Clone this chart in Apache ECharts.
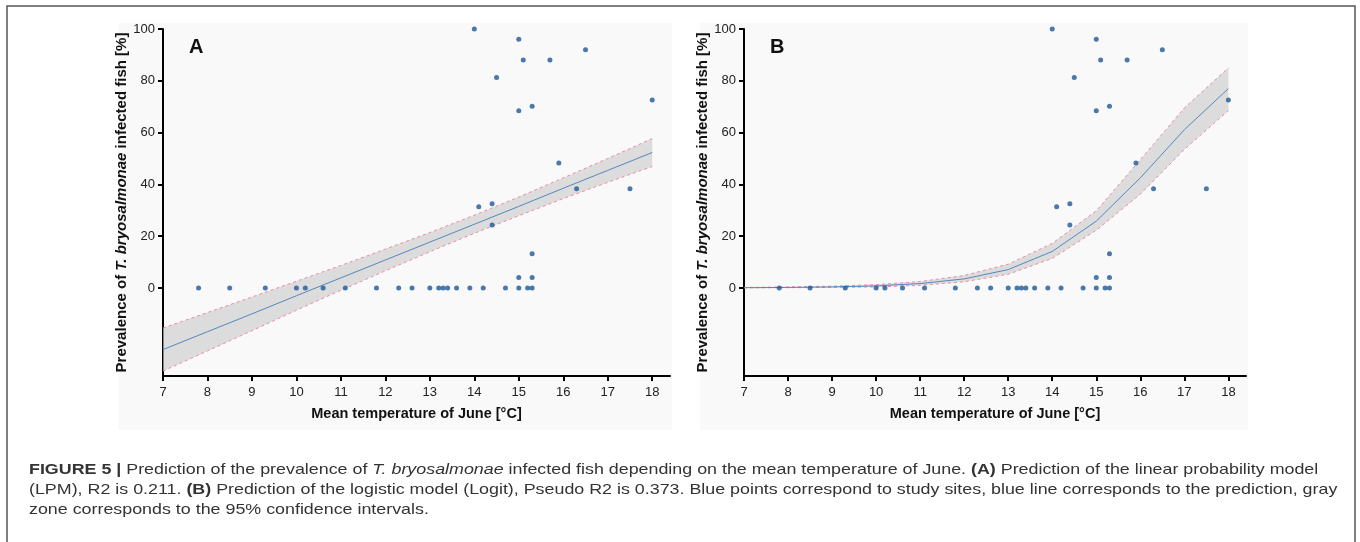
<!DOCTYPE html>
<html>
<head>
<meta charset="utf-8">
<script src="https://cdn.jsdelivr.net/npm/echarts@6/dist/echarts.min.js"></script>
<style>
html,body{margin:0;padding:0;background:#fff;}
#chart{width:1360px;height:542px;}
</style>
</head>
<body>
<div id="chart"></div>
<script>
// ---- data ----
const xTicks = [7, 8, 9, 10, 11, 12, 13, 14, 15, 16, 17, 18];
const yTicks = [0, 20, 40, 60, 80, 100];

// study sites: mean June temperature (°C) and prevalence (%)
const siteTemp = [7.8, 8.5, 9.3, 10.0, 10.2, 10.6, 11.1, 11.8, 12.3, 12.6, 13.0, 13.2, 13.3, 13.4, 13.6, 13.9, 14.2, 14.7, 15.0, 15.2, 15.3,
                  14.1, 14.4, 14.4, 15.0, 15.3, 15.3,
                  14.0, 15.0, 15.1, 15.7, 16.5, 14.5, 15.0, 15.3, 18.0, 15.9, 16.3, 17.5];
const sitePrev = [0, 0, 0, 0, 0, 0, 0, 0, 0, 0, 0, 0, 0, 0, 0, 0, 0, 0, 0, 0, 0,
                  31.4, 32.5, 24.3, 4.0, 4.0, 13.2,
                  100, 96, 88, 88, 92, 81.3, 68.4, 70.2, 72.6, 48.3, 38.3, 38.3];

// prediction grid
const predTemp = [7, 8, 9, 10, 11, 12, 13, 14, 15, 16, 17, 18];
// (A) linear probability model
const lpmFit   = [-23.8, -16.9, -10.0, -3.0, 3.9, 10.8, 17.7, 24.6, 31.5, 38.5, 45.4, 52.3];
const lpmUpper = [-15.5, -9.5, -3.5, 2.6, 8.7, 15.0, 21.4, 28.1, 35.1, 42.5, 50.0, 57.7];
const lpmLower = [-32.1, -24.3, -16.5, -8.6, -0.9, 6.6, 14.0, 21.1, 27.9, 34.5, 40.8, 46.9];
// (B) logistic model
const logitFit   = [0.1, 0.2, 0.4, 0.8, 1.7, 3.5, 7.1, 14.1, 25.8, 42.5, 61.1, 77.0];
const logitUpper = [0.2, 0.4, 0.7, 1.3, 2.5, 4.8, 9.2, 17.2, 29.8, 49.5, 69.5, 85.0];
const logitLower = [0.05, 0.1, 0.2, 0.4, 1.0, 2.4, 5.3, 11.4, 22.3, 36.2, 53.5, 68.5];

// ---- styles ----
const FONT = '"Liberation Sans", Arial, Helvetica, sans-serif';
const POINT = '#1b5996';
const FITLINE = '#5687bd';
const CI = '#ef8aa5';
const BAND = 'rgba(205,205,205,0.65)';

const pts = siteTemp.map((t, i) => [t, sitePrev[i]]);
const zip = (xs, ys) => xs.map((x, i) => [x, ys[i]]);

function bandSeries(idx, up, lo) {
  return {
    type: 'custom', xAxisIndex: idx, yAxisIndex: idx, silent: true, z: 1,
    data: [[predTemp[0], lo[0]]],
    encode: { x: 0, y: 1 },
    renderItem: function (params, api) {
      const poly = [];
      for (let i = 0; i < predTemp.length; i++) poly.push(api.coord([predTemp[i], up[i]]));
      for (let i = predTemp.length - 1; i >= 0; i--) poly.push(api.coord([predTemp[i], lo[i]]));
      return { type: 'polygon', shape: { points: poly }, style: { fill: BAND, stroke: null } };
    }
  };
}
function lineSeries(idx, ys, color, dashed) {
  return {
    type: 'line', xAxisIndex: idx, yAxisIndex: idx, data: zip(predTemp, ys), symbol: 'none',
    silent: true, z: dashed ? 2 : 3,
    lineStyle: { color: color, width: 1, type: dashed ? [3, 3] : 'solid' }
  };
}
function xAxis(idx) {
  return {
    type: 'value', gridIndex: idx, min: 7, max: 18.4,
    name: 'Mean temperature of June [°C]', nameLocation: 'middle', nameGap: 30,
    nameTextStyle: { fontFamily: FONT, fontWeight: 'bold', fontSize: 14.5, color: '#111' },
    axisLine: { show: true, onZero: false, lineStyle: { color: '#000', width: 2 } },
    axisTick: { show: true, length: 5, lineStyle: { color: '#000', width: 2 }, customValues: xTicks },
    axisLabel: { fontFamily: FONT, fontSize: 13, color: '#222', margin: 10, customValues: xTicks },
    splitLine: { show: false }
  };
}
function yAxis(idx) {
  return {
    type: 'value', gridIndex: idx, min: -34, max: 100,
    name: 'Prevalence of {i|T. bryosalmonae} infected fish [%]', nameLocation: 'middle', nameGap: 33,
    nameTextStyle: { fontFamily: FONT, fontWeight: 'bold', fontSize: 15, color: '#111',
      rich: { i: { fontFamily: FONT, fontWeight: 'bold', fontStyle: 'italic', fontSize: 15, color: '#111' } } },
    axisLine: { show: true, onZero: false, lineStyle: { color: '#000', width: 2 } },
    axisTick: { show: true, length: 5, lineStyle: { color: '#000', width: 2 }, customValues: yTicks },
    axisLabel: { fontFamily: FONT, fontSize: 13, color: '#222', margin: 8, customValues: yTicks },
    splitLine: { show: false }
  };
}

const chart = echarts.init(document.getElementById('chart'), null, { width: 1360, height: 542 });
const capStyle = {
  fontFamily: FONT, fontSize: 15, fill: '#333',
  rich: {
    b: { fontFamily: FONT, fontSize: 15, fontWeight: 'bold', fill: '#333' },
    i: { fontFamily: FONT, fontSize: 15, fontStyle: 'italic', fill: '#333' }
  }
};
const CAP_SX = 1.19;
chart.setOption({
  animation: false,
  backgroundColor: '#fff',
  grid: [
    { left: 163, top: 29, width: 507, height: 347 },
    { left: 744, top: 29, width: 502, height: 347 }
  ],
  xAxis: [xAxis(0), xAxis(1)],
  yAxis: [yAxis(0), yAxis(1)],
  graphic: [
    { type: 'rect', z: -20, shape: { x: 7, y: 6, width: 1348, height: 560 }, style: { fill: '#fff', stroke: '#555', lineWidth: 1.5 } },
    { type: 'rect', z: -10, shape: { x: 118, y: 23, width: 554, height: 407 }, style: { fill: '#f9f9f9' } },
    { type: 'rect', z: -10, shape: { x: 700, y: 23, width: 548, height: 407 }, style: { fill: '#f9f9f9' } },
    { type: 'text', z: 10, x: 189, y: 37, style: { text: 'A', fontFamily: FONT, fontSize: 20, fontWeight: 'bold', fill: '#111' } },
    { type: 'text', z: 10, x: 770, y: 37, style: { text: 'B', fontFamily: FONT, fontSize: 20, fontWeight: 'bold', fill: '#111' } },
    { type: 'text', z: 10, x: 29, y: 462, scaleX: CAP_SX, style: Object.assign({ text: '{b|FIGURE 5 |} Prediction of the prevalence of {i|T. bryosalmonae} infected fish depending on the mean temperature of June. {b|(A)} Prediction of the linear probability model' }, capStyle) },
    { type: 'text', z: 10, x: 29, y: 482, scaleX: CAP_SX, style: Object.assign({ text: '(LPM), R2 is 0.211. {b|(B)} Prediction of the logistic model (Logit), Pseudo R2 is 0.373. Blue points correspond to study sites, blue line corresponds to the prediction, gray' }, capStyle) },
    { type: 'text', z: 10, x: 29, y: 502, scaleX: CAP_SX, style: Object.assign({ text: 'zone corresponds to the 95% confidence intervals.' }, capStyle) }
  ],
  series: [
    bandSeries(0, lpmUpper, lpmLower),
    lineSeries(0, lpmUpper, CI, true),
    lineSeries(0, lpmLower, CI, true),
    lineSeries(0, lpmFit, FITLINE, false),
    { type: 'scatter', xAxisIndex: 0, yAxisIndex: 0, data: pts, symbolSize: 5, itemStyle: { color: POINT }, z: 5 },
    bandSeries(1, logitUpper, logitLower),
    lineSeries(1, logitUpper, CI, true),
    lineSeries(1, logitLower, CI, true),
    lineSeries(1, logitFit, FITLINE, false),
    { type: 'scatter', xAxisIndex: 1, yAxisIndex: 1, data: pts, symbolSize: 5, itemStyle: { color: POINT }, z: 5 }
  ]
});
</script>
</body>
</html>
